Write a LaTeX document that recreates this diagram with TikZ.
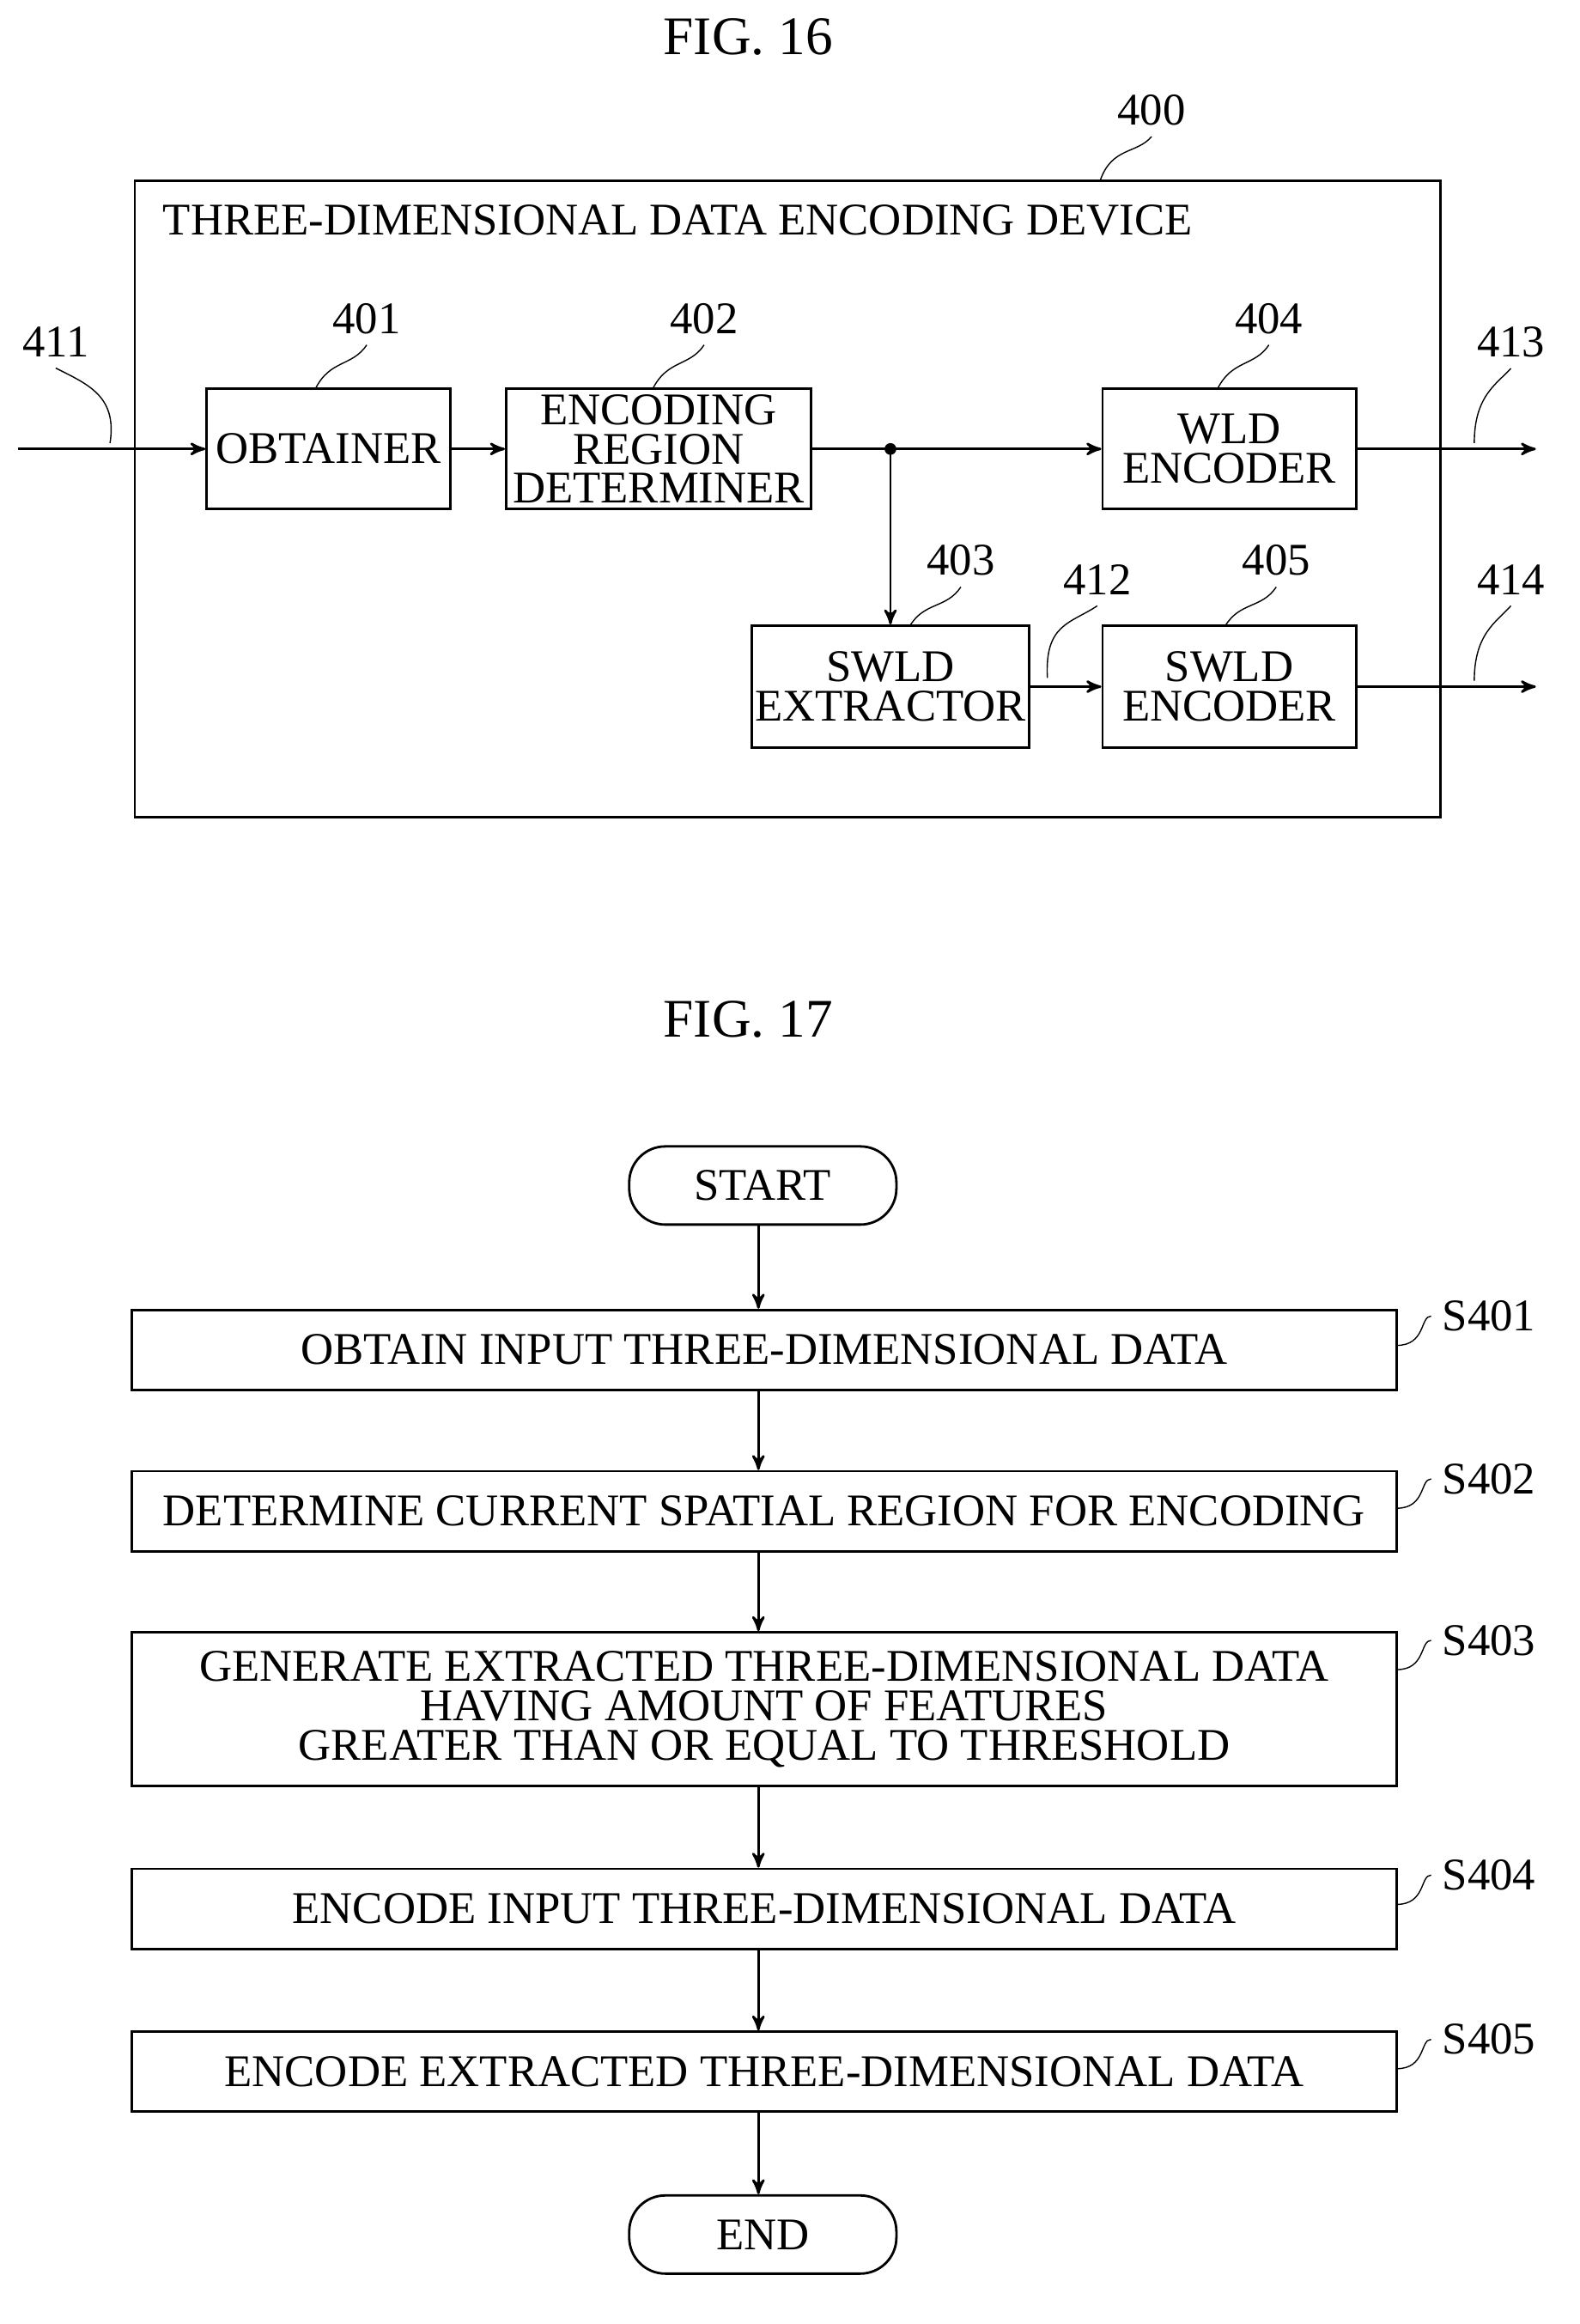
\documentclass[tikz,border=0pt]{standalone}
\usepackage{fontspec}
\setmainfont{Liberation Serif}
\usetikzlibrary{arrows,positioning}

\begin{document}
\begin{tikzpicture}[x=0.01708cm,y=-0.01708cm,>=stealth',thick,
  font=\fontsize{15}{13}\selectfont,align=center,
  blk/.style={draw,rectangle,inner sep=1pt,minimum height=1.40cm},
  flowstep/.style={draw,rectangle,minimum width=14.72cm,minimum height=0.93cm},
  term/.style={draw,rounded corners=0.42cm,minimum width=3.11cm,minimum height=0.91cm},
  fig/.style={font=\fontsize{18}{18}\selectfont},
  lead/.style={thin,-}]
  \useasboundingbox (0,0) rectangle (1077,1584);

  % FIG. 16
  \node[fig] (f16) at (510,25) {FIG. 16};
  \node[draw,minimum width=15.20cm,minimum height=7.41cm] (dev) at (537,340) {};
  \node (devt) at (462,150) {THREE-DIMENSIONAL DATA ENCODING DEVICE};
  \node[blk,minimum width=2.84cm] (obt) at (224,306) {OBTAINER};
  \node[blk,minimum width=3.55cm] (erd) at (449,306) {ENCODING\\REGION\\DETERMINER};
  \node[blk,minimum width=2.95cm] (wenc) at (838,306) {WLD\\ENCODER};
  \node[blk,minimum width=3.18cm,minimum height=1.42cm] (sext) at (607,468) {SWLD\\EXTRACTOR};
  \node[blk,minimum width=2.95cm,minimum height=1.42cm] (senc) at (838,468) {SWLD\\ENCODER};
  \coordinate (in) at (12,306);
  \coordinate (out1) at (1047,306);
  \coordinate (out2) at (1047,468);
  \coordinate (jn) at (607,306);

  \draw[->] (in) -- (obt);
  \draw[->] (obt) -- (erd);
  \draw (erd.east) -- (jn);
  \draw[->] (jn) -- (wenc);
  \fill (jn) circle (4);
  \draw[->] (jn) -- (sext);
  \draw[->] (sext) -- (senc);
  \draw[->] (wenc) -- (out1);
  \draw[->] (senc) -- (out2);

  % reference numerals
  \node (n400) at (785,75) {400};
  \node (n401) at (250,217) {401};
  \node (n402) at (480,217) {402};
  \node (n404) at (865,217) {404};
  \node (n403) at (655,382) {403};
  \node (n405) at (870,382) {405};
  \node (n412) at (748,395) {412};
  \node (n411) at (38,233) {411};
  \node (n413) at (1030,233) {413};
  \node (n414) at (1030,395) {414};
  \draw[lead] (n400.south) .. controls (775,105) and (758,100) .. (750,123);
  \draw[lead] (n401.south) .. controls (240,250) and (225,245) .. (215,265);
  \draw[lead] (n402.south) .. controls (470,250) and (455,245) .. (445,265);
  \draw[lead] (n404.south) .. controls (855,250) and (840,245) .. (830,265);
  \draw[lead] (n403.south) .. controls (645,415) and (630,410) .. (620,427);
  \draw[lead] (n405.south) .. controls (860,415) and (845,410) .. (835,427);
  \draw[lead] (n412.south) .. controls (730,425) and (712,425) .. (714,462);
  \draw[lead] (n411.south) .. controls (60,262) and (80,270) .. (75,302);
  \draw[lead] (n413.south) .. controls (1020,262) and (1005,270) .. (1005,302);
  \draw[lead] (n414.south) .. controls (1020,424) and (1005,432) .. (1005,464);

  % FIG. 17
  \node[fig] (f17) at (510,695) {FIG. 17};
  \node[term] (start) at (520,808) {START};
  \node[flowstep] (s1) at (521,920) {OBTAIN INPUT THREE-DIMENSIONAL DATA};
  \node[flowstep] (s2) at (521,1030) {DETERMINE CURRENT SPATIAL REGION FOR ENCODING};
  \node[flowstep,minimum height=1.79cm] (s3) at (521,1165) {GENERATE EXTRACTED THREE-DIMENSIONAL DATA\\HAVING AMOUNT OF FEATURES\\GREATER THAN OR EQUAL TO THRESHOLD};
  \node[flowstep] (s4) at (521,1301) {ENCODE INPUT THREE-DIMENSIONAL DATA};
  \node[flowstep] (s5) at (521,1412) {ENCODE EXTRACTED THREE-DIMENSIONAL DATA};
  \node[term] (end) at (520,1523) {END};
  \foreach \a/\b in {start/s1,s1/s2,s2/s3,s3/s4,s4/s5,s5/end}
    \draw[->] (\a.south -| 517,0) -- (\b.north -| 517,0);

  \foreach \s/\t/\y in {s1/S401/897,s2/S402/1008,s3/S403/1118,s4/S404/1278,s5/S405/1390} {
    \node (l\s) at (1015,\y) {\t};
    \draw[lead] (l\s.west) .. controls (968,\y) and (972,\y+20) .. (952,\y+20);
  }
\end{tikzpicture}
\end{document}
